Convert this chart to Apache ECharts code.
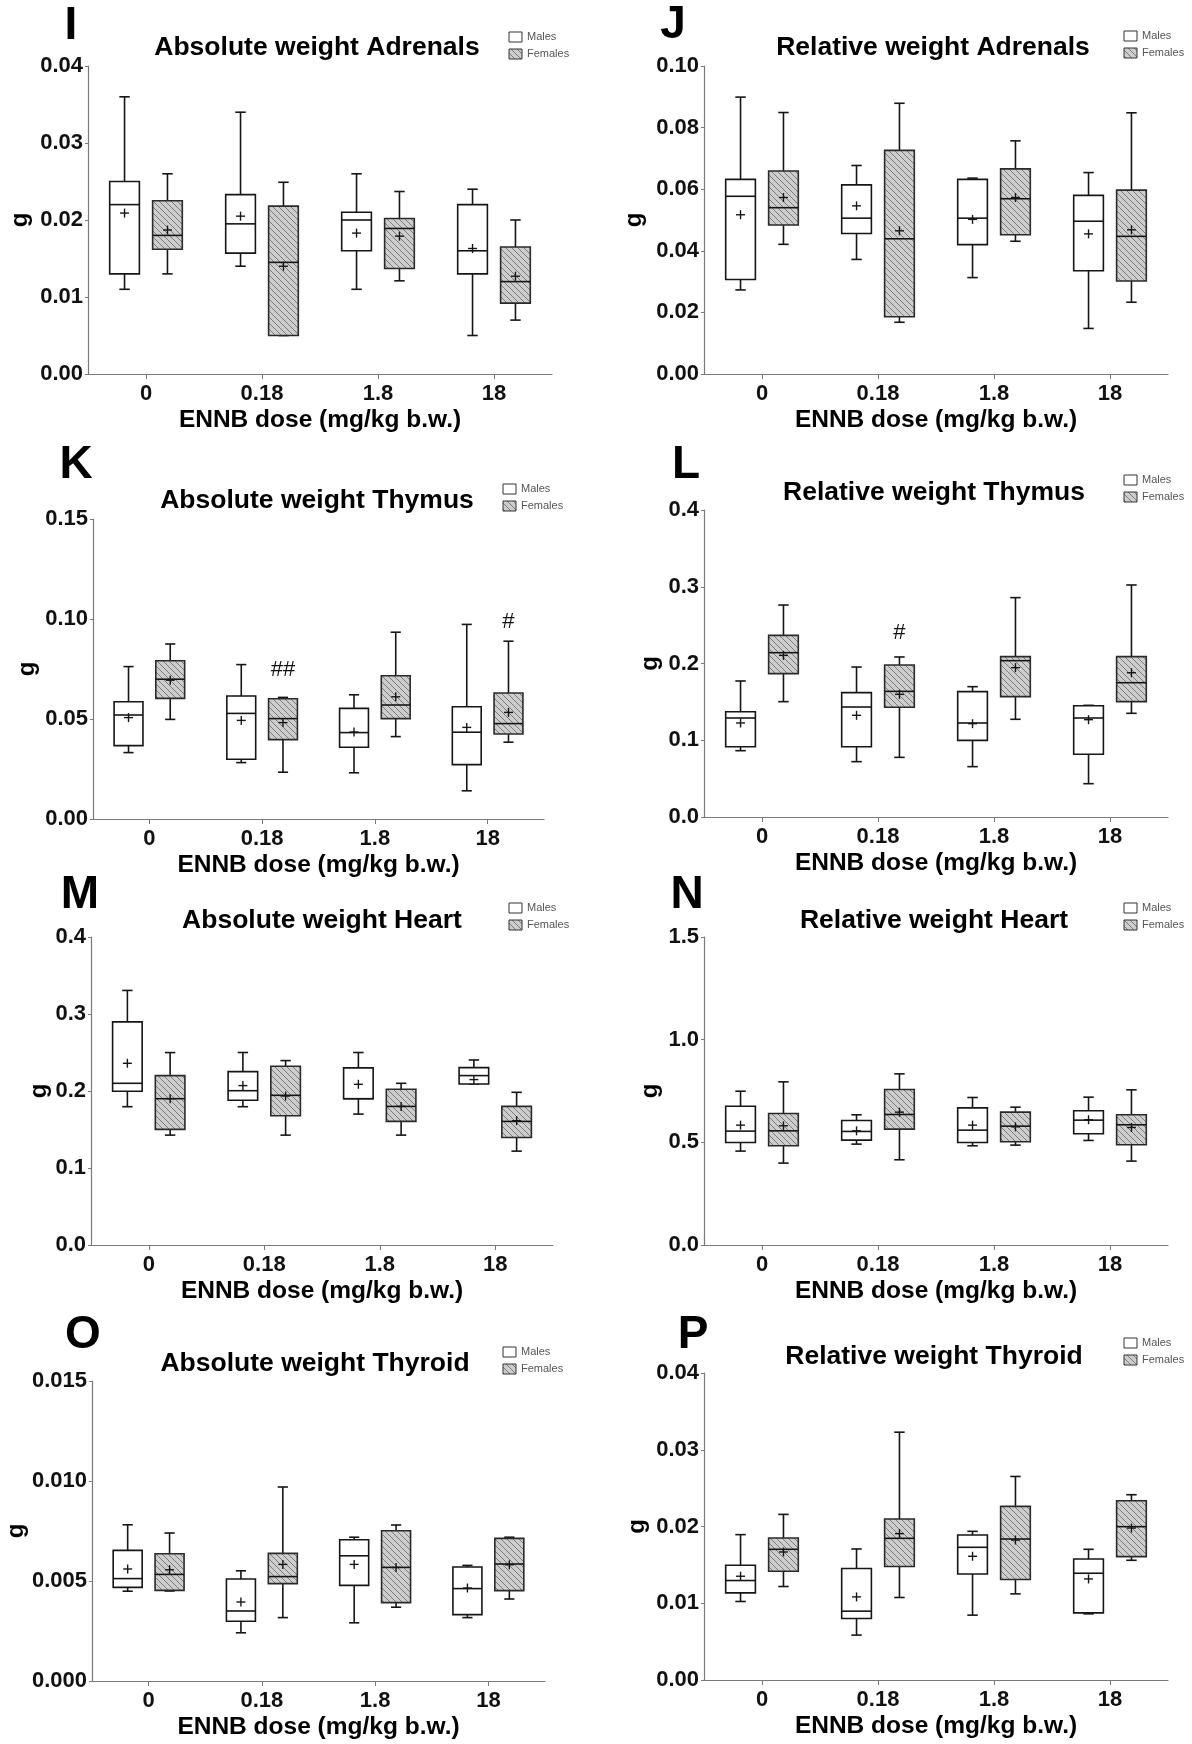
<!DOCTYPE html>
<html><head><meta charset="utf-8">
<script src="https://cdn.jsdelivr.net/npm/echarts@6/dist/echarts.min.js"></script>
<style>html,body{margin:0;padding:0;background:#fff}#c{width:1192px;height:1744px}</style>
</head><body><div id="c"></div>
<script>
// ---------------- DATA ----------------
const doses = ['0', '0.18', '1.8', '18'];
const sexNames = ['Males', 'Females'];
const xAxisName = 'ENNB dose (mg/kg b.w.)';
const yAxisName = 'g';
const panelLetters = ['I', 'J', 'K', 'L', 'M', 'N', 'O', 'P'];
const panelTitles = ['Absolute weight Adrenals', 'Relative weight Adrenals', 'Absolute weight Thymus', 'Relative weight Thymus',
  'Absolute weight Heart', 'Relative weight Heart', 'Absolute weight Thyroid', 'Relative weight Thyroid'];
// y axis: max, tick step, decimals of the tick labels
const yMaxes = [0.04, 0.10, 0.15, 0.4, 0.4, 1.5, 0.015, 0.04];
const ySteps = [0.01, 0.02, 0.05, 0.1, 0.1, 0.5, 0.005, 0.01];
const yDecimals = [2, 2, 2, 1, 1, 1, 3, 2];

// each row (one per dose): [min, Q1, median, Q3, max, mean]
const adrenalsAbsMales = [[0.011, 0.013, 0.022, 0.025, 0.036, 0.0209], [0.014, 0.0157, 0.0195, 0.0233, 0.034, 0.0205], [0.011, 0.016, 0.020, 0.021, 0.026, 0.0183], [0.005, 0.013, 0.016, 0.022, 0.024, 0.0163]];
const adrenalsAbsFemales = [[0.013, 0.0162, 0.018, 0.0225, 0.026, 0.0187], [0.005, 0.005, 0.0145, 0.0218, 0.0249, 0.014], [0.0121, 0.0137, 0.0189, 0.0202, 0.0237, 0.0179], [0.007, 0.0092, 0.012, 0.0165, 0.020, 0.0127]];
const adrenalsRelMales = [[0.0273, 0.0307, 0.0577, 0.0632, 0.0899, 0.0517], [0.0372, 0.0456, 0.0506, 0.0614, 0.0677, 0.0546], [0.0313, 0.042, 0.0506, 0.0632, 0.0636, 0.0502], [0.0148, 0.0335, 0.0496, 0.058, 0.0654, 0.0455]];
const adrenalsRelFemales = [[0.0421, 0.0484, 0.054, 0.0659, 0.0849, 0.0573], [0.0168, 0.0186, 0.0439, 0.0726, 0.0879, 0.0465], [0.0431, 0.0452, 0.0569, 0.0666, 0.0757, 0.0573], [0.0233, 0.0302, 0.0447, 0.0597, 0.0848, 0.0468]];
const thymusAbsMales = [[0.0332, 0.0367, 0.052, 0.0586, 0.0762, 0.0507], [0.0282, 0.0299, 0.0528, 0.0615, 0.0772, 0.0493], [0.0231, 0.0359, 0.0432, 0.0553, 0.0621, 0.0435], [0.0141, 0.0272, 0.0434, 0.0561, 0.0973, 0.0458]];
const thymusAbsFemales = [[0.0498, 0.0603, 0.0699, 0.0791, 0.0875, 0.0694], [0.0234, 0.0397, 0.0502, 0.0601, 0.0608, 0.0482], [0.0412, 0.0502, 0.057, 0.0716, 0.0934, 0.0611], [0.0384, 0.0425, 0.0477, 0.063, 0.0889, 0.0533]];
const thymusRelMales = [[0.0864, 0.0916, 0.129, 0.1372, 0.1772, 0.1225], [0.0721, 0.0916, 0.1433, 0.162, 0.1954, 0.1325], [0.0656, 0.0999, 0.1225, 0.1633, 0.1698, 0.1216], [0.0434, 0.0817, 0.129, 0.145, 0.1455, 0.1268]];
const thymusRelFemales = [[0.1503, 0.1868, 0.2141, 0.2367, 0.2762, 0.2106], [0.0777, 0.1429, 0.1637, 0.198, 0.2085, 0.1598], [0.1273, 0.1568, 0.2037, 0.2089, 0.2858, 0.1946], [0.1351, 0.1503, 0.175, 0.2089, 0.3023, 0.188]];
const heartAbsMales = [[0.1796, 0.1996, 0.21, 0.2898, 0.3306, 0.236], [0.1796, 0.1879, 0.2004, 0.2252, 0.25, 0.207], [0.17, 0.19, 0.19, 0.23, 0.25, 0.2087], [0.2091, 0.2091, 0.22, 0.2304, 0.2403, 0.2148]];
const heartAbsFemales = [[0.1427, 0.1501, 0.19, 0.22, 0.2499, 0.19], [0.1427, 0.1679, 0.1944, 0.2321, 0.2395, 0.1935], [0.1427, 0.1605, 0.18, 0.2022, 0.21, 0.18], [0.1219, 0.1397, 0.1605, 0.18, 0.1983, 0.1614]];
const heartRelMales = [[0.4573, 0.4994, 0.5546, 0.676, 0.749, 0.5838], [0.4913, 0.5108, 0.553, 0.6065, 0.634, 0.556], [0.4832, 0.4994, 0.5594, 0.668, 0.7184, 0.5838], [0.5092, 0.5416, 0.608, 0.6535, 0.72, 0.61]];
const heartRelFemales = [[0.3989, 0.4832, 0.556, 0.6405, 0.7946, 0.5805], [0.4151, 0.5643, 0.6356, 0.7573, 0.8335, 0.647], [0.4865, 0.5027, 0.5789, 0.647, 0.6713, 0.5757], [0.4086, 0.4881, 0.5854, 0.634, 0.7557, 0.5724]];
const thyroidAbsMales = [[0.00449, 0.00468, 0.00512, 0.00653, 0.00781, 0.0056], [0.00241, 0.00299, 0.0035, 0.0051, 0.00551, 0.00395], [0.00291, 0.00478, 0.00626, 0.00706, 0.00719, 0.00583], [0.00317, 0.00332, 0.00462, 0.0057, 0.00578, 0.00465]];
const thyroidAbsFemales = [[0.0045, 0.00453, 0.00533, 0.00636, 0.0074, 0.00556], [0.00317, 0.00487, 0.00522, 0.00638, 0.0097, 0.00583], [0.00369, 0.00392, 0.00568, 0.00751, 0.0078, 0.00568], [0.0041, 0.00452, 0.00585, 0.00713, 0.00719, 0.00581]];
const thyroidRelMales = [[0.01023, 0.01135, 0.01296, 0.01495, 0.01894, 0.01352], [0.00585, 0.00802, 0.00897, 0.01452, 0.01707, 0.01083], [0.00845, 0.01382, 0.01729, 0.0189, 0.01937, 0.01612], [0.00862, 0.00875, 0.01391, 0.01577, 0.01703, 0.01317]];
const thyroidRelFemales = [[0.01218, 0.01417, 0.01703, 0.0185, 0.02158, 0.01668], [0.01075, 0.01478, 0.01846, 0.02097, 0.03229, 0.01907], [0.01122, 0.01309, 0.01837, 0.02262, 0.02652, 0.01824], [0.0156, 0.01608, 0.01998, 0.02336, 0.02414, 0.0198]];

const panelMales = [adrenalsAbsMales, adrenalsRelMales, thymusAbsMales, thymusRelMales, heartAbsMales, heartRelMales, thyroidAbsMales, thyroidRelMales];
const panelFemales = [adrenalsAbsFemales, adrenalsRelFemales, thymusAbsFemales, thymusRelFemales, heartAbsFemales, heartRelFemales, thyroidAbsFemales, thyroidRelFemales];

// significance marks: [panel, dose index, sex index, value, text]
const annotations = [[2, 1, 1, 0.0744, '##'], [2, 3, 1, 0.0985, '#'], [3, 1, 1, 0.24, '#']];

// ---------------- LAYOUT ----------------
const grids = [
  {left: 88, top: 66, width: 464, height: 308},
  {left: 704, top: 66, width: 464, height: 308},
  {left: 93, top: 519, width: 451, height: 300},
  {left: 704, top: 510, width: 464, height: 307},
  {left: 91, top: 937, width: 462, height: 308},
  {left: 704, top: 937, width: 464, height: 308},
  {left: 92, top: 1381, width: 453, height: 300},
  {left: 704, top: 1373, width: 464, height: 307}
];
const yNameGaps = [56, 58, 54, 42, 40, 42, 64, 55];
const titlePos = [[317, 48], [933, 48], [317, 501], [934, 493], [322, 921], [934, 921], [315, 1364], [934, 1357]];
const letterPos = [[71, 26], [673, 25], [76, 465], [686, 465], [80, 895], [687, 895], [83, 1335], [693, 1335]];
const legendPos = [[509, 37], [1124, 36], [503, 489], [1124, 480], [509, 908], [1124, 908], [503, 1352], [1124, 1343]];

const FONT = '"Liberation Sans", Arial, Helvetica, sans-serif';
const INK = '#161616';
const AXIS = '#7a7a7a';

function makeHatch() {
  const s = 6;
  const c = document.createElement('canvas');
  c.width = s; c.height = s;
  const g = c.getContext('2d');
  g.fillStyle = '#cdcdcd';
  g.fillRect(0, 0, s, s);
  g.strokeStyle = '#7c7c7c';
  g.lineWidth = 1;
  g.beginPath();
  for (const o of [-s, 0, s]) { g.moveTo(o, 0); g.lineTo(o + s, s); }
  g.stroke();
  return c;
}
const hatch = {image: makeHatch(), repeat: 'repeat'};

const OFFSET = 0.185, BOXW = 0.256, CAPW = 0.09;

function boxRenderer(sexIdx) {
  return function (params, api) {
    const cat = api.value(0);
    const band = api.size([1, 0])[0];
    const cx = api.coord([cat, 0])[0] + (sexIdx === 0 ? -1 : 1) * band * OFFSET;
    const bw = band * BOXW, cw = band * CAPW;
    const y = i => api.coord([cat, api.value(i)])[1];
    const yMin = y(1), yQ1 = y(2), yMed = y(3), yQ3 = y(4), yMax = y(5), yMean = y(6);
    const ls = {stroke: INK, lineWidth: 1.6};
    const ln = (x1, y1, x2, y2) => ({type: 'line', shape: {x1, y1, x2, y2}, style: ls});
    const ps = 4.5;
    return {
      type: 'group',
      children: [
        ln(cx, yQ3, cx, yMax),
        ln(cx - cw / 2, yMax, cx + cw / 2, yMax),
        ln(cx, yQ1, cx, yMin),
        ln(cx - cw / 2, yMin, cx + cw / 2, yMin),
        {type: 'rect', shape: {x: cx - bw / 2, y: yQ3, width: bw, height: Math.max(yQ1 - yQ3, 0.5)},
          style: {fill: sexIdx === 0 ? '#fff' : hatch, stroke: sexIdx === 0 ? INK : '#2a2a2a', lineWidth: 1.6}},
        ln(cx - bw / 2, yMed, cx + bw / 2, yMed),
        {type: 'line', shape: {x1: cx - ps, y1: yMean, x2: cx + ps, y2: yMean}, style: {stroke: INK, lineWidth: 1.4}},
        {type: 'line', shape: {x1: cx, y1: yMean - ps, x2: cx, y2: yMean + ps}, style: {stroke: INK, lineWidth: 1.4}}
      ]
    };
  };
}

function annotRenderer(params, api) {
  const cat = api.value(0);
  const band = api.size([1, 0])[0];
  const sx = api.value(1) === 0 ? -1 : 1;
  const p = api.coord([cat, api.value(2)]);
  return {type: 'text', x: p[0] + sx * band * OFFSET, y: p[1],
    style: {text: api.value(3) === 2 ? '##' : '#', align: 'center', verticalAlign: 'middle', font: '22px ' + FONT, fill: '#111'}};
}

const xAxes = [], yAxes = [], series = [], graphics = [];
for (let i = 0; i < 8; i++) {
  xAxes.push({
    gridIndex: i, type: 'category', data: doses, boundaryGap: true,
    name: xAxisName, nameLocation: 'middle', nameGap: 34,
    nameTextStyle: {fontSize: 24.5, fontWeight: 'bold', color: '#000', fontFamily: FONT},
    axisLine: {show: true, lineStyle: {color: AXIS, width: 1.2}},
    axisTick: {show: true, alignWithLabel: true, length: 5, lineStyle: {color: AXIS}},
    axisLabel: {fontSize: 22, fontWeight: 'bold', color: '#111', margin: 9, fontFamily: FONT},
    splitLine: {show: false}
  });
  const dec = yDecimals[i];
  yAxes.push({
    gridIndex: i, type: 'value', min: 0, max: yMaxes[i], interval: ySteps[i],
    name: yAxisName, nameLocation: 'middle', nameGap: yNameGaps[i], nameRotate: 90,
    nameTextStyle: {fontSize: 24, fontWeight: 'bold', color: '#000', fontFamily: FONT},
    axisLine: {show: true, lineStyle: {color: AXIS, width: 1.2}},
    axisTick: {show: true, length: 3, lineStyle: {color: AXIS}},
    axisLabel: {fontSize: 22, fontWeight: 'bold', color: '#111', margin: 5, fontFamily: FONT,
      formatter: v => v.toFixed(dec)},
    splitLine: {show: false}
  });
  [panelMales[i], panelFemales[i]].forEach((rows, s) => {
    series.push({
      type: 'custom', name: sexNames[s], xAxisIndex: i, yAxisIndex: i,
      renderItem: boxRenderer(s),
      encode: {x: 0, y: [1, 2, 3, 4, 5, 6]},
      data: rows.map((r, c) => [c].concat(r)),
      clip: false, silent: true
    });
  });
  const ann = annotations.filter(a => a[0] === i);
  if (ann.length) {
    series.push({
      type: 'custom', name: 'significance', xAxisIndex: i, yAxisIndex: i,
      renderItem: annotRenderer,
      encode: {x: 0, y: 2},
      data: ann.map(a => [a[1], a[2], a[3], a[4].length]),
      silent: true
    });
  }
  // titles & panel letters
  graphics.push({type: 'text', x: titlePos[i][0], y: titlePos[i][1],
    style: {text: panelTitles[i], align: 'center', verticalAlign: 'middle', font: 'bold 26.5px ' + FONT, fill: '#000'}});
  graphics.push({type: 'text', x: letterPos[i][0], y: letterPos[i][1],
    style: {text: panelLetters[i], align: 'center', verticalAlign: 'middle', font: 'bold 46px ' + FONT, fill: '#000'}});
  // legend
  const [lx, ly] = legendPos[i];
  sexNames.forEach((nm, s) => {
    const yy = ly + s * 17;
    graphics.push({type: 'rect', shape: {x: lx, y: yy - 5, width: 13, height: 10},
      style: {fill: s === 0 ? '#fff' : hatch, stroke: '#333', lineWidth: 1}});
    graphics.push({type: 'text', x: lx + 18, y: yy,
      style: {text: nm, align: 'left', verticalAlign: 'middle', font: '11px ' + FONT, fill: '#555'}});
  });
}

const chart = echarts.init(document.getElementById('c'), null, {renderer: 'canvas'});
chart.setOption({
  backgroundColor: '#fff',
  animation: false,
  grid: grids.map(g => Object.assign({containLabel: false, outerBoundsMode: 'none'}, g)),
  xAxis: xAxes,
  yAxis: yAxes,
  series: series,
  graphic: graphics
});
</script></body></html>
